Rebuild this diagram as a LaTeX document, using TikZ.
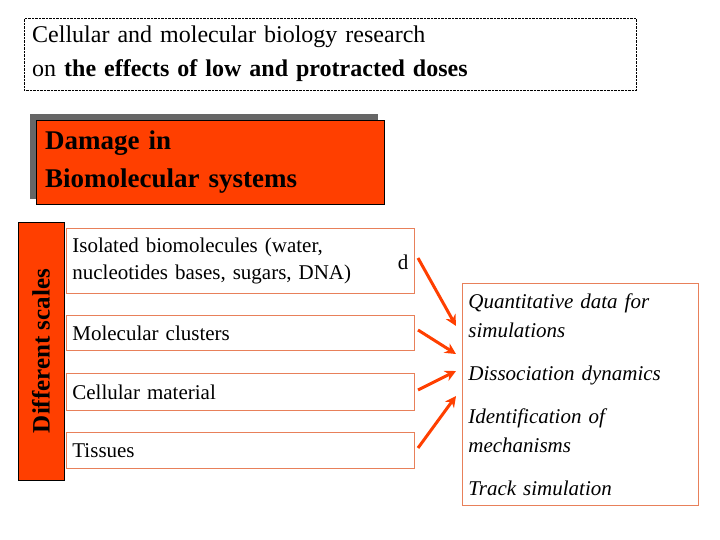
\documentclass[tikz,border=0pt]{standalone}
\usepackage{fontspec}
\usetikzlibrary{arrows.meta}
\setmainfont{Liberation Serif}
\definecolor{rd}{HTML}{FF3F00}
\definecolor{bd}{HTML}{E8805A}
\begin{document}
\begin{tikzpicture}[x=1pt,y=-1pt,
 item/.style={draw=bd,line width=0.8pt,anchor=north west,minimum width=348pt,align=left,inner xsep=6pt,text width=336pt},
 arr/.style={draw=rd,line width=3pt,-{Stealth[length=11pt,width=11pt]}}]
\useasboundingbox (0,0) rectangle (720,540);
\node[draw,densely dotted,anchor=north west,minimum width=612pt,minimum height=72pt,align=left,inner xsep=8pt,text width=596pt,font=\fontsize{24}{34}\selectfont] (title) at (24,18) {Cellular and molecular biology research\\on \textbf{the effects of low and protracted doses}};
\fill[gray!80!black] (30,114) rectangle (378,199);
\node[draw=black,fill=rd,anchor=north west,minimum width=348pt,minimum height=84pt,align=left,inner xsep=8pt,text width=330pt,font=\fontsize{27}{38}\selectfont\bfseries] (dmg) at (36,120) {Damage in\\Biomolecular systems};
\node[draw=black,fill=rd,anchor=north west,minimum width=46pt,minimum height=258pt] (ds) at (18,222) {};
\node[rotate=90,font=\fontsize{25}{30}\selectfont\bfseries] (dsl) at (41,351) {Different scales};
\node[item,minimum height=65pt,font=\fontsize{21}{27}\selectfont] (i1) at (66,228) {Isolated biomolecules (water,\\nucleotides bases, sugars, DNA)};
\node[font=\fontsize{21}{21}\selectfont] (dd) at (403,262) {d};
\node[item,minimum height=35pt,font=\fontsize{21}{27}\selectfont] (i2) at (66,315) {Molecular clusters};
\node[item,minimum height=37pt,font=\fontsize{21}{27}\selectfont] (i3) at (66,373) {Cellular material};
\node[item,minimum height=36pt,font=\fontsize{21}{27}\selectfont] (i4) at (66,432) {Tissues};
\node[draw=bd,line width=0.8pt,anchor=north west,minimum width=235pt,minimum height=222pt,align=left,inner xsep=6pt,inner ysep=4pt,text width=224pt,font=\fontsize{21}{29}\selectfont\itshape] (res) at (462,283) {Quantitative data for\\simulations\\[14pt]Dissociation dynamics\\[14pt]Identification of\\mechanisms\\[14pt]Track simulation};
\coordinate (a1) at (418,258); \coordinate (b1) at (456,326);
\coordinate (a2) at (418,330); \coordinate (b2) at (456,354);
\coordinate (a3) at (418,390); \coordinate (b3) at (456,371);
\coordinate (a4) at (418,448); \coordinate (b4) at (456,396);
\draw[arr] (a1)--(b1); \draw[arr] (a2)--(b2); \draw[arr] (a3)--(b3); \draw[arr] (a4)--(b4);
\end{tikzpicture}
\end{document}
